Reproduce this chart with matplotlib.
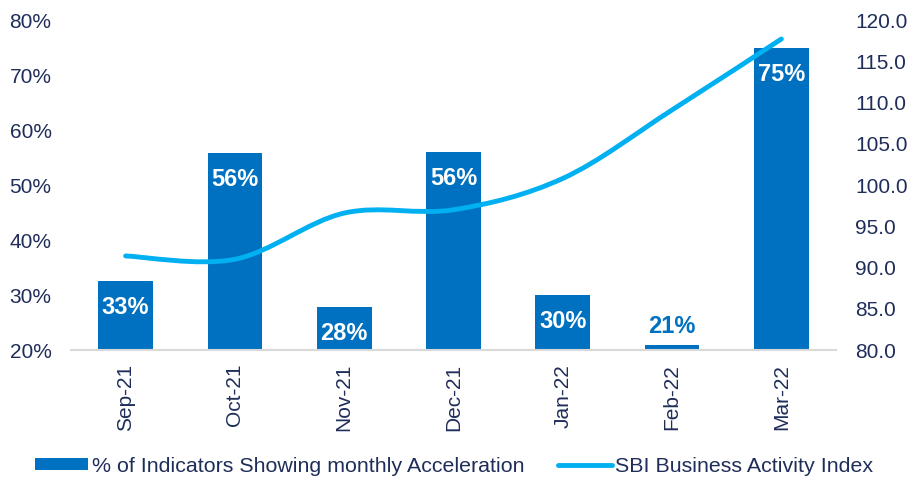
import matplotlib.pyplot as plt
from matplotlib.path import Path
from matplotlib.patches import PathPatch
from matplotlib.lines import Line2D
from matplotlib.patches import Patch
import numpy as np

# data
months = ['Sep-21', 'Oct-21', 'Nov-21', 'Dec-21', 'Jan-22', 'Feb-22', 'Mar-22']
pct_accel = [32.6, 55.8, 27.8, 56.0, 30.0, 20.9, 75.0]
pct_labels = ['33%', '56%', '28%', '56%', '30%', '21%', '75%']
sbi_index = [91.4, 91.0, 96.6, 97.0, 100.8, 109.1, 117.7]

bar_color = '#0070C0'
line_color = '#00B0F0'
text_color = '#1F2D5A'

plt.rcParams['font.family'] = ['Liberation Sans', 'DejaVu Sans']

fig = plt.figure(figsize=(9.08, 4.79), dpi=100)
ax = fig.add_axes([0.0782, 0.2693, 0.8425, 0.6889])
x = np.arange(len(months))

ax.bar(x, pct_accel, width=0.5, color=bar_color, zorder=2)
ax.set_ylim(20, 80)
ax.set_xlim(-0.5, len(months) - 0.5)
ax.set_yticks(range(20, 81, 10))
ax.set_yticklabels(['%d%%' % v for v in range(20, 81, 10)])
ax.set_xticks(x)
ax.set_xticklabels(months, rotation=90)
ax.tick_params(axis='both', length=0, labelsize=15, colors=text_color)
ax.tick_params(axis='y', pad=14)
ax.tick_params(axis='x', pad=10)
for s in ['top', 'right', 'left']:
    ax.spines[s].set_visible(False)
ax.spines['bottom'].set_color('#D9D9D9')
ax.spines['bottom'].set_linewidth(1.5)

# bar value labels
for xi, v, lab in zip(x, pct_accel, pct_labels):
    if v - 20 < 5:
        ax.annotate(lab, (xi, v), xytext=(0, 5), textcoords='offset points',
                    ha='center', va='bottom', color=bar_color,
                    fontsize=17, fontweight='bold')
    else:
        ax.annotate(lab, (xi, v), xytext=(0, -11), textcoords='offset points',
                    ha='center', va='top', color='white',
                    fontsize=17, fontweight='bold')

# secondary axis with smoothed line (bezier like excel smoothing)
ax2 = ax.twinx()
ax2.set_ylim(80, 120)
ax2.set_yticks(np.arange(80, 121, 5))
ax2.set_yticklabels(['%.1f' % v for v in np.arange(80, 121, 5)])
ax2.tick_params(axis='y', length=0, labelsize=15, colors=text_color, pad=14)
for s in ax2.spines.values():
    s.set_visible(False)

pts = list(zip(x, sbi_index))
verts = [pts[0]]
codes = [Path.MOVETO]
n = len(pts)
for i in range(n - 1):
    p0 = np.array(pts[max(i - 1, 0)], float)
    p1 = np.array(pts[i], float)
    p2 = np.array(pts[i + 1], float)
    p3 = np.array(pts[min(i + 2, n - 1)], float)
    c1 = p1 + (p2 - p0) / 6.0
    c2 = p2 - (p3 - p1) / 6.0
    verts += [tuple(c1), tuple(c2), tuple(p2)]
    codes += [Path.CURVE4] * 3
ax2.add_patch(PathPatch(Path(verts, codes), facecolor='none',
                        edgecolor=line_color, lw=3.5, capstyle='round', zorder=3))

handles = [Patch(facecolor=bar_color, edgecolor='none'),
           Line2D([], [], color=line_color, lw=3.5, solid_capstyle='round')]
fig.legend(handles, ['% of Indicators Showing monthly Acceleration',
                     'SBI Business Activity Index'],
           loc='center', bbox_to_anchor=(0.5, 0.027), ncol=2, frameon=False,
           fontsize=15.4, labelcolor=text_color, handlelength=2.5,
           handleheight=0.5, handletextpad=0.15, columnspacing=1.6)

fig.savefig('out.png', dpi=100)
